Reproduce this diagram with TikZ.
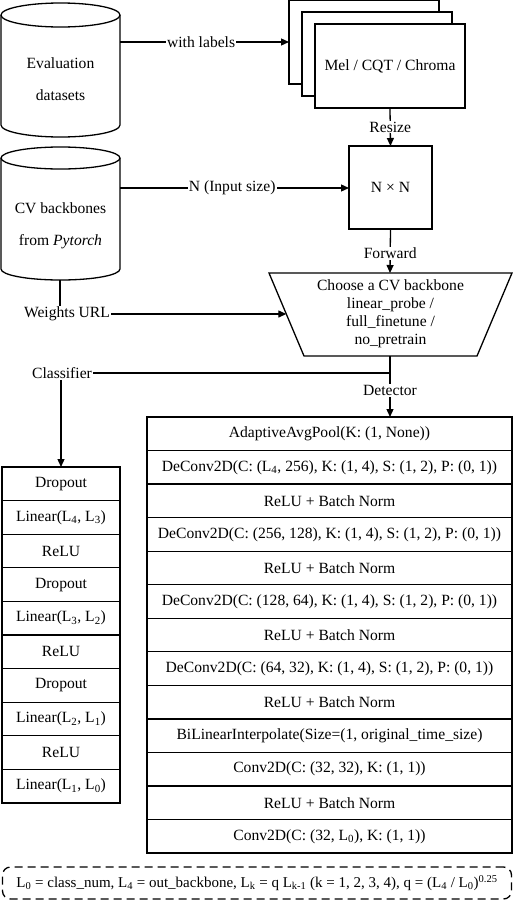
\documentclass[tikz,border=0pt]{standalone}
\usepackage{fontspec}
\setmainfont{Liberation Serif}
\usetikzlibrary{arrows.meta}
\newcommand{\fs}{\fontsize{15.6}{18}\selectfont}
\begin{document}
\begin{tikzpicture}[x=1pt,y=-1pt,
  ln/.style={line width=1.3pt},
  arr/.style={ln,-{Triangle[length=8pt,width=7pt]}},
  lbl/.style={fill=white,inner sep=1pt,font=\fs},
  txt/.style={inner sep=0pt,font=\fs,align=center},
  lrow/.style={draw,ln,minimum width=118pt,minimum height=33.6pt,inner sep=0pt,outer sep=0pt,anchor=north,font=\fs},
  rrow/.style={draw,ln,minimum width=365pt,minimum height=33.54pt,inner sep=0pt,outer sep=0pt,anchor=north,font=\fs},
  page/.style={draw,ln,fill=white,minimum width=150pt,minimum height=84pt,inner sep=0pt,outer sep=0pt,anchor=north west}
]
\useasboundingbox (0,0) rectangle (513,900);

% Evaluation datasets cylinder
\draw[ln] (1,15) -- (1,125) arc[start angle=180,end angle=360,x radius=59.5pt,y radius=12pt] -- (120,15);
\draw[ln] (60.5,15) ellipse[x radius=59.5pt,y radius=12pt];
\node[txt] (evaltxt) at (60.5,79) {Evaluation\\[14pt]datasets};
\coordinate (evalout) at (120,42);

% CV backbones cylinder
\draw[ln] (1,158) -- (1,269) arc[start angle=180,end angle=360,x radius=59.5pt,y radius=11pt] -- (120,158);
\draw[ln] (60.5,158) ellipse[x radius=59.5pt,y radius=11pt];
\node[txt] (cvtxt) at (60.5,226) {CV backbones\\[14pt]from \textit{Pytorch}};
\coordinate (cvout) at (120,188);
\coordinate (cvbot) at (60,280);

% stacked pages
\node[page] (p1) at (289,0) {};
\node[page] (p2) at (302,12) {};
\node[page,font=\fs] (mel) at (315,24) {Mel / CQT / Chroma};

% N x N
\node[draw,ln,minimum width=83pt,minimum height=83pt,inner sep=0pt,outer sep=0pt,font=\fs] (nn) at (390.5,187.5) {N × N};

% trapezoid
\coordinate (t1) at (269,273);
\coordinate (t2) at (512,273);
\coordinate (t3) at (477,356);
\coordinate (t4) at (304,356);
\draw[ln] (t1) -- (t2) -- (t3) -- (t4) -- cycle;
\node[txt] (choose) at (390.5,314) {Choose a CV backbone\\linear\_probe /\\full\_finetune /\\no\_pretrain};
\coordinate (ttop) at (390,273);
\coordinate (tbot) at (390,356);
\coordinate (tleft) at (286.3,314);
\coordinate (split) at (390,373);

% labels
\node[lbl] (wurl) at (67,314) {Weights URL};
\node[lbl] (cls) at (62,373) {Classifier};

% left stack
\node[lrow] (l1) at (61,467) {Dropout};
\node[lrow] (l2) at (l1.south) {Linear(L\textsubscript{4}, L\textsubscript{3})};
\node[lrow] (l3) at (l2.south) {ReLU};
\node[lrow] (l4) at (l3.south) {Dropout};
\node[lrow] (l5) at (l4.south) {Linear(L\textsubscript{3}, L\textsubscript{2})};
\node[lrow] (l6) at (l5.south) {ReLU};
\node[lrow] (l7) at (l6.south) {Dropout};
\node[lrow] (l8) at (l7.south) {Linear(L\textsubscript{2}, L\textsubscript{1})};
\node[lrow] (l9) at (l8.south) {ReLU};
\node[lrow] (l10) at (l9.south) {Linear(L\textsubscript{1}, L\textsubscript{0})};

% right stack
\node[rrow] (r1) at (329.5,417) {AdaptiveAvgPool(K: (1, None))};
\node[rrow] (r2) at (r1.south) {DeConv2D(C: (L\textsubscript{4}, 256), K: (1, 4), S: (1, 2), P: (0, 1))};
\node[rrow] (r3) at (r2.south) {ReLU + Batch Norm};
\node[rrow] (r4) at (r3.south) {DeConv2D(C: (256, 128), K: (1, 4), S: (1, 2), P: (0, 1))};
\node[rrow] (r5) at (r4.south) {ReLU + Batch Norm};
\node[rrow] (r6) at (r5.south) {DeConv2D(C: (128, 64), K: (1, 4), S: (1, 2), P: (0, 1))};
\node[rrow] (r7) at (r6.south) {ReLU + Batch Norm};
\node[rrow] (r8) at (r7.south) {DeConv2D(C: (64, 32), K: (1, 4), S: (1, 2), P: (0, 1))};
\node[rrow] (r9) at (r8.south) {ReLU + Batch Norm};
\node[rrow] (r10) at (r9.south) {BiLinearInterpolate(Size=(1, original\_time\_size)};
\node[rrow] (r11) at (r10.south) {Conv2D(C: (32, 32), K: (1, 1))};
\node[rrow] (r12) at (r11.south) {ReLU + Batch Norm};
\node[rrow] (r13) at (r12.south) {Conv2D(C: (32, L\textsubscript{0}), K: (1, 1))};

% legend
\node[draw,ln,dash pattern=on 8pt off 5pt,rounded corners=8pt,minimum width=509pt,minimum height=32pt,inner sep=0pt,outer sep=0pt,font=\fontsize{15}{17}\selectfont] (legend) at (257,883)
 {L\textsubscript{0} = class\_num, L\textsubscript{4} = out\_backbone, L\textsubscript{k} = q L\textsubscript{k-1} (k = 1, 2, 3, 4), q = (L\textsubscript{4} / L\textsubscript{0})\textsuperscript{0.25}};

% connectors
\draw[arr] (evalout) -- node[lbl,pos=0.48] {with labels} (evalout -| p1.west);
\draw[arr] (mel.south) -- node[lbl] {Resize} (nn.north);
\draw[arr] (cvout) -- node[lbl,pos=0.49] {N (Input size)} (cvout -| nn.west);
\draw[arr] (nn.south) -- node[lbl,pos=0.55] {Forward} (ttop);
\draw[ln] (cvbot) -- (wurl.north -| cvbot);
\draw[arr] (wurl.east) -- (tleft);
\draw[ln] (tbot) -- (split);
\draw[ln] (split) -- (cls.east);
\draw[arr] (split) -- node[lbl,pos=0.4] {Detector} (split |- r1.north);
\draw[arr] (cls.south -| l1.north) -- (l1.north);
\end{tikzpicture}
\end{document}
